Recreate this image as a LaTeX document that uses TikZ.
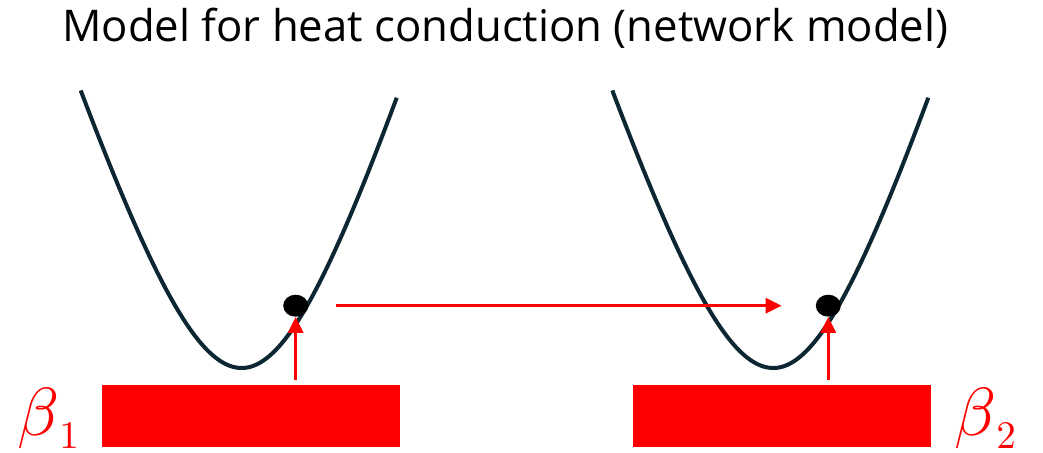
\documentclass[tikz,border=0pt]{standalone}
\usepackage{fontspec}
\setmainfont{Open Sans}
\usetikzlibrary{arrows.meta,shapes.geometric}
\definecolor{curvecol}{RGB}{12,38,50}
\definecolor{hotred}{RGB}{255,0,0}
\tikzset{
  well/.style={draw=curvecol,line width=4pt},
  redarrow/.style={draw=hotred,line width=3.3pt,-{Triangle[length=16pt,width=15pt]}},
  ball/.style={ellipse,fill=black,draw=none,minimum width=25pt,minimum height=22pt,inner sep=0pt},
  bath/.style={rectangle,fill=hotred,draw=none,minimum width=298pt,minimum height=62.5pt,inner sep=0pt},
  betalabel/.style={anchor=base west,inner sep=0pt,text=hotred}
}
\begin{document}
\begin{tikzpicture}[x=1pt,y=-1pt]
\useasboundingbox (0,0) rectangle (1043,452);
\fill[white] (0,0) rectangle (1043,452);
% title
\node[anchor=base west,inner sep=0pt] (title) at (62,42)
  {\resizebox{886pt}{!}{Model for heat conduction (network model)}};
% potential wells
\foreach \cx in {241.7,773.3}{
  \draw[well] plot[domain=-161:0,samples=70,smooth] ({\cx+\x},{368-310*(sqrt(1+(\x/100)^2)-1)})
    -- plot[domain=0:155,samples=70,smooth] ({\cx+\x},{368-320*(sqrt(1+(\x/100)^2)-1)});
}
% heat baths
\node[bath] (r1) at (250.5,416) {};
\node[bath] (r2) at (782,416) {};
% particles
\node[ball] (d1) at (295.7,305.7) {};
\node[ball] (d2) at (828.3,305.7) {};
% arrows
\draw[redarrow] ([yshift=5pt]r1.north -| d1.south) -- (d1.south);
\draw[redarrow] ([yshift=5pt]r2.north -| d2.south) -- (d2.south);
\draw[redarrow,shorten <=28pt,shorten >=34pt] (d1.east) -- (d2.west);
% labels
\node[betalabel] (b1) at (17,435)
  {\scalebox{6.8}{$\beta$}\raisebox{-13pt}{\scalebox{3.9}{$1$}}};
\node[betalabel] (b2) at (954,435)
  {\scalebox{6.8}{$\beta$}\raisebox{-13pt}{\scalebox{3.9}{$2$}}};
\end{tikzpicture}
\end{document}
